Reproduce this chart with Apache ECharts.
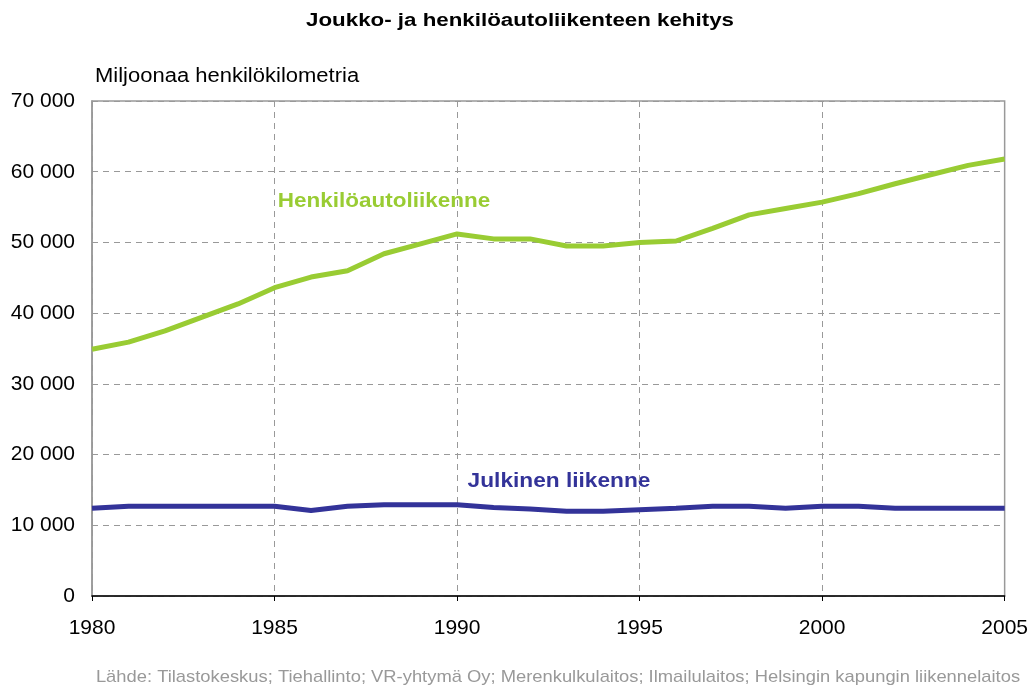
<!DOCTYPE html>
<html>
<head>
<meta charset="utf-8">
<script src="https://cdn.jsdelivr.net/npm/echarts@6/dist/echarts.min.js"></script>
<style>
  html, body { margin: 0; padding: 0; background: #fff; }
  #main { width: 1031px; height: 686px; }
</style>
</head>
<body>
<div id="main"></div>
<script>
// vuodet 1980-2005
var years = [];
for (var y = 1980; y <= 2005; y++) years.push(String(y));

// Henkilöautoliikenne, milj. henkilökm
var henkiloauto = [34900, 35900, 37500, 39400, 41300, 43600, 45100, 46000, 48400, 49800,
                   51200, 50500, 50500, 49500, 49500, 50000, 50200, 52000, 53900, 54800,
                   55700, 56900, 58300, 59600, 60900, 61800];

// Julkinen liikenne
var julkinen = [12400, 12700, 12700, 12700, 12700, 12700, 12100, 12700, 12900, 12900,
                12900, 12500, 12300, 12000, 12000, 12200, 12400, 12700, 12700, 12400,
                12700, 12700, 12400, 12400, 12400, 12400];

var myChart = echarts.init(document.getElementById('main'));

var fontFam = 'Liberation Sans, Arial, sans-serif';

var option = {
    animation: false,
    backgroundColor: '#fff',
    textStyle: { fontFamily: fontFam },
    grid: { left: 92, right: 26, top: 101, bottom: 90, show: true, borderColor: '#999', borderWidth: 1.5 },
    xAxis: {
        type: 'category',
        data: years,
        boundaryGap: false,
        axisLine: { lineStyle: { color: '#000', width: 1.5 } },
        axisTick: { interval: 4, length: 5, lineStyle: { color: '#000' } },
        axisLabel: { interval: 4, color: '#000', fontSize: 21, margin: 22, fontFamily: fontFam },
        splitLine: { show: true, interval: 4, lineStyle: { color: '#999', type: [6, 5], width: 1 } }
    },
    yAxis: {
        type: 'value',
        min: 0, max: 70000, interval: 10000,
        axisLine: { show: true, lineStyle: { color: '#999', width: 1.5 } },
        axisTick: { show: false },
        axisLabel: {
            color: '#000', fontSize: 21, margin: 17, fontFamily: fontFam,
            formatter: function (v) { return String(v).replace(/\B(?=(\d{3})+(?!\d))/g, ' '); }
        },
        splitLine: { lineStyle: { color: '#999', type: [6, 5], width: 1 } }
    },
    series: [
        {
            name: 'Henkilöautoliikenne',
            type: 'line',
            data: henkiloauto,
            symbol: 'none',
            lineStyle: { color: '#99cc33', width: 5 },
            z: 3
        },
        {
            name: 'Julkinen liikenne',
            type: 'line',
            data: julkinen,
            symbol: 'none',
            lineStyle: { color: '#333399', width: 5 },
            z: 3
        }
    ],
    graphic: [
        {   // otsikko
            type: 'text', x: 520, y: 21, scaleX: 1.24,
            style: { text: 'Joukko- ja henkilöautoliikenteen kehitys', fill: '#000',
                     font: 'bold 18px ' + fontFam, textAlign: 'center', textVerticalAlign: 'middle' }
        },
        {   // y-akselin nimi
            type: 'text', x: 95, y: 76, scaleX: 1.1,
            style: { text: 'Miljoonaa henkilökilometria', fill: '#000',
                     font: '20px ' + fontFam, textAlign: 'left', textVerticalAlign: 'middle' }
        },
        {
            type: 'text', x: 384, y: 201, scaleX: 1.07,
            style: { text: 'Henkilöautoliikenne', fill: '#99cc33',
                     font: 'bold 21px ' + fontFam, textAlign: 'center', textVerticalAlign: 'middle' }
        },
        {
            type: 'text', x: 559, y: 481, scaleX: 1.08,
            style: { text: 'Julkinen liikenne', fill: '#333399',
                     font: 'bold 21px ' + fontFam, textAlign: 'center', textVerticalAlign: 'middle' }
        },
        {
            type: 'text', x: 558, y: 677, scaleX: 1.08,
            style: { text: 'Lähde: Tilastokeskus; Tiehallinto; VR-yhtymä Oy; Merenkulkulaitos; Ilmailulaitos; Helsingin kapungin liikennelaitos',
                     fill: '#999', font: '17px ' + fontFam, textAlign: 'center', textVerticalAlign: 'middle' }
        }
    ]
};

myChart.setOption(option);
</script>
</body>
</html>
